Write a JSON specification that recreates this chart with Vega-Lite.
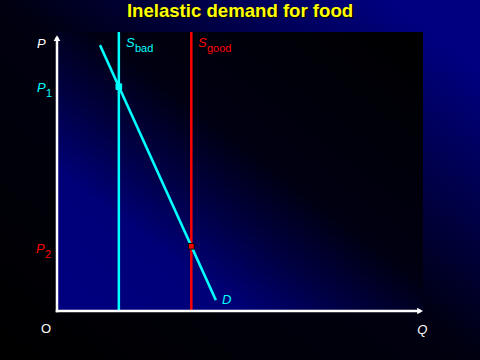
{
  "$schema": "https://vega.github.io/schema/vega-lite/v6.json",
  "width": 480,
  "height": 360,
  "autosize": {"type": "fit", "contains": "padding"},
  "padding": 0,
  "background": "#000000",
  "config": {"view": {"stroke": null}},
  "datasets": {
    "panels": [
      {"part": "slide", "Q": -15.57, "Q2": 115.57, "P": -17.56, "P2": 111.47},
      {"part": "plot", "Q": 0, "Q2": 100, "P": 0, "P2": 100}
    ],
    "curves": [
      {"g": "bad", "Q": 16.9, "Q2": 16.9, "P": 0, "P2": 100},
      {"g": "good", "Q": 36.7, "Q2": 36.7, "P": 0, "P2": 100}
    ],
    "axes": [
      {"g": "axis", "Q": 0, "Q2": 99, "P": 0, "P2": 0},
      {"g": "axis", "Q": 0, "Q2": 0, "P": 0, "P2": 97.8}
    ],
    "arrows": [
      {"axis": "P", "Q": 0, "P": 97.8},
      {"axis": "Q", "Q": 99.2, "P": 0}
    ],
    "demand": [
      {"Q": 11.75, "P": 95.3},
      {"Q": 43.4, "P": 3.9}
    ],
    "equilibria": [
      {"g": "bad", "Q": 16.9, "P": 80.4},
      {"g": "good", "Q": 36.7, "P": 23.2}
    ],
    "labels": [
      {"kind": "var", "g": "axis", "lab": "P", "sub": "", "Q": -5.46, "P": 94.3},
      {"kind": "var", "g": "bad", "lab": "P", "sub": "1", "Q": -5.46, "P": 78.5},
      {"kind": "var", "g": "good", "lab": "P", "sub": "2", "Q": -5.74, "P": 20.8},
      {"kind": "var", "g": "bad", "lab": "S", "sub": "bad", "Q": 18.85, "P": 94.6},
      {"kind": "var", "g": "good", "lab": "S", "sub": "good", "Q": 38.5, "P": 94.6},
      {"kind": "var", "g": "bad", "lab": "D", "sub": "", "Q": 45.1, "P": 2.5},
      {"kind": "var", "g": "axis", "lab": "Q", "sub": "", "Q": 98.4, "P": -8.2},
      {"kind": "origin", "g": "axis", "lab": "O", "sub": "", "Q": -4.37, "P": -7.9}
    ],
    "heading": [
      {"text": "Inelastic demand for food", "Q": 50, "P": 105.4}
    ]
  },
  "encoding": {
    "x": {"field": "Q", "type": "quantitative", "scale": {"domain": [-15.57, 115.57], "nice": false, "zero": false}, "axis": null},
    "y": {"field": "P", "type": "quantitative", "scale": {"domain": [-17.56, 111.47], "nice": false, "zero": false}, "axis": null}
  },
  "layer": [
    {
      "data": {"name": "panels"},
      "transform": [{"filter": "datum.part === 'slide'"}],
      "mark": {"type": "rect", "fill": {"gradient": "linear", "x1": 1, "y1": 0, "x2": 0, "y2": 1, "stops": [
        {"offset": 0, "color": "#000080"},
        {"offset": 0.1, "color": "#000080"},
        {"offset": 0.5, "color": "#000010"},
        {"offset": 1, "color": "#000000"}
      ]}},
      "encoding": {"x2": {"field": "Q2"}, "y2": {"field": "P2"}}
    },
    {
      "data": {"name": "panels"},
      "transform": [{"filter": "datum.part === 'plot'"}],
      "mark": {"type": "rect", "fill": {"gradient": "linear", "x1": 0, "y1": 1, "x2": 1, "y2": 0, "stops": [
        {"offset": 0, "color": "#000080"},
        {"offset": 0.25, "color": "#000078"},
        {"offset": 0.4, "color": "#000042"},
        {"offset": 0.55, "color": "#000012"},
        {"offset": 1, "color": "#000000"}
      ]}},
      "encoding": {"x2": {"field": "Q2"}, "y2": {"field": "P2"}}
    },
    {
      "data": {"name": "curves"},
      "mark": {"type": "rule", "strokeWidth": 2.5},
      "encoding": {
        "x2": {"field": "Q2"},
        "y2": {"field": "P2"},
        "color": {"field": "g", "type": "nominal", "scale": {"domain": ["axis", "bad", "good"], "range": ["#ffffff", "#00ffff", "#ff0000"]}, "legend": null}
      }
    },
    {
      "data": {"name": "demand"},
      "mark": {"type": "line", "color": "#00ffff", "strokeWidth": 2.5},
      "encoding": {}
    },
    {
      "data": {"name": "axes"},
      "mark": {"type": "rule", "strokeWidth": 2.5, "strokeCap": "square"},
      "encoding": {
        "x2": {"field": "Q2"},
        "y2": {"field": "P2"},
        "color": {"field": "g", "type": "nominal", "scale": {"domain": ["axis", "bad", "good"], "range": ["#ffffff", "#00ffff", "#ff0000"]}, "legend": null}
      }
    },
    {
      "data": {"name": "arrows"},
      "mark": {"type": "point", "filled": true, "color": "#ffffff", "opacity": 1, "size": 45},
      "encoding": {
        "shape": {"field": "axis", "type": "nominal", "scale": {"domain": ["P", "Q"], "range": ["triangle-up", "triangle-right"]}, "legend": null}
      }
    },
    {
      "data": {"name": "equilibria"},
      "mark": {"type": "point", "shape": "square", "filled": true, "opacity": 1, "size": 32, "strokeWidth": 1},
      "encoding": {
        "color": {"field": "g", "type": "nominal", "scale": {"domain": ["axis", "bad", "good"], "range": ["#ffffff", "#00ffff", "#ff0000"]}, "legend": null},
        "stroke": {"field": "g", "type": "nominal", "scale": {"domain": ["bad", "good"], "range": ["#00ffff", "#000000"]}, "legend": null}
      }
    },
    {
      "data": {"name": "labels"},
      "transform": [{"filter": "datum.kind === 'var'"}],
      "mark": {"type": "text", "font": "Liberation Sans", "fontSize": 13, "fontStyle": "italic", "align": "left", "baseline": "alphabetic"},
      "encoding": {
        "text": {"field": "lab"},
        "color": {"field": "g", "type": "nominal", "scale": {"domain": ["axis", "bad", "good"], "range": ["#ffffff", "#00ffff", "#ff0000"]}, "legend": null}
      }
    },
    {
      "data": {"name": "labels"},
      "transform": [{"filter": "datum.kind === 'origin'"}],
      "mark": {"type": "text", "font": "Liberation Sans", "fontSize": 13, "align": "left", "baseline": "alphabetic"},
      "encoding": {
        "text": {"field": "lab"},
        "color": {"field": "g", "type": "nominal", "scale": {"domain": ["axis", "bad", "good"], "range": ["#ffffff", "#00ffff", "#ff0000"]}, "legend": null}
      }
    },
    {
      "data": {"name": "labels"},
      "transform": [{"filter": "datum.sub !== ''"}],
      "mark": {"type": "text", "font": "Liberation Sans", "fontSize": 11, "align": "left", "baseline": "alphabetic", "dx": 9, "dy": 5},
      "encoding": {
        "text": {"field": "sub"},
        "color": {"field": "g", "type": "nominal", "scale": {"domain": ["axis", "bad", "good"], "range": ["#ffffff", "#00ffff", "#ff0000"]}, "legend": null}
      }
    },
    {
      "data": {"name": "heading"},
      "mark": {"type": "text", "font": "Liberation Sans", "fontSize": 18.6, "fontWeight": "bold", "align": "center", "baseline": "alphabetic", "color": "#000000", "dx": 1.5, "dy": 1.5},
      "encoding": {"text": {"field": "text"}}
    },
    {
      "data": {"name": "heading"},
      "mark": {"type": "text", "font": "Liberation Sans", "fontSize": 18.6, "fontWeight": "bold", "align": "center", "baseline": "alphabetic", "color": "#ffff00"},
      "encoding": {"text": {"field": "text"}}
    }
  ]
}
